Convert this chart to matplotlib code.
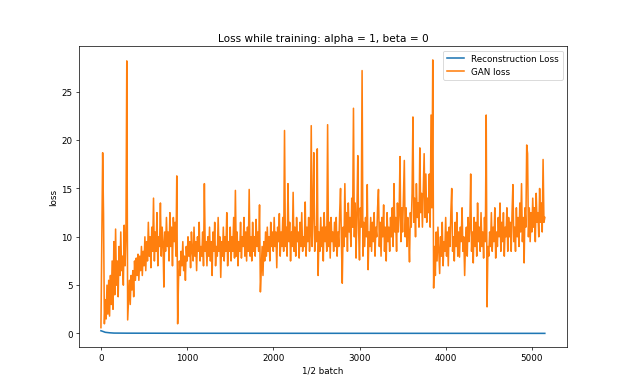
import matplotlib
matplotlib.use("Agg")
import matplotlib.pyplot as plt
import numpy as np

# GAN loss, one value every 10 half-batches
step = 10
gan_loss = [
    # 0 - 240
    0.6, 9.3, 18.7, 12.4, 1.0, 3.5, 1.5, 5.0, 2.0, 5.5, 1.8, 6.0, 3.0,
    7.5, 2.5, 9.5, 4.0, 10.8, 5.0, 7.5, 3.8, 9.0, 6.0, 10.5, 6.5,
    # 250 - 490
    8.0, 5.0, 11.2, 7.0, 10.0, 28.2, 1.4, 3.5, 5.5, 3.0, 6.0, 4.5, 6.5,
    3.8, 7.5, 5.5, 7.8, 6.0, 8.2, 5.5, 8.0, 6.5, 9.0, 6.0, 8.5,
    # 500 - 740
    7.0, 10.0, 6.5, 9.5, 7.5, 11.5, 8.0, 10.0, 6.8, 11.0, 8.5, 14.0, 7.5,
    10.5, 8.5, 12.5, 7.0, 10.0, 9.0, 13.5, 8.0, 11.0, 9.5, 4.8, 10.5,
    # 750 - 990
    8.5, 12.0, 9.0, 10.5, 7.5, 12.5, 9.0, 11.0, 7.0, 12.0, 9.5, 11.5, 8.0,
    16.3, 1.0, 5.5, 7.5, 6.0, 8.5, 7.0, 9.5, 6.5, 8.0, 5.5, 9.0,
    # 1000 - 1240
    7.5, 10.0, 8.0, 9.5, 6.8, 10.5, 8.5, 7.5, 11.0, 8.0, 9.5, 6.5, 10.0,
    8.5, 11.5, 7.5, 9.0, 8.0, 10.5, 7.0, 15.5, 8.5, 9.5, 7.0, 10.0,
    # 1250 - 1490
    8.0, 11.0, 7.5, 9.5, 6.0, 10.5, 8.5, 11.5, 7.0, 9.0, 8.0, 12.0, 8.5,
    10.0, 5.8, 9.5, 8.0, 11.0, 7.5, 10.0, 8.5, 12.5, 7.0, 9.5, 8.5,
    # 1500 - 1740
    11.0, 7.5, 10.0, 8.5, 12.0, 7.8, 14.8, 8.0, 10.5, 7.0, 9.5, 8.5, 11.5,
    7.8, 10.0, 9.0, 12.0, 8.0, 10.5, 7.5, 11.0, 8.5, 14.9, 8.0, 10.0,
    # 1750 - 1990
    7.5, 11.5, 8.5, 10.0, 8.0, 11.8, 9.0, 10.5, 8.5, 13.3, 4.3, 6.5, 9.0,
    6.0, 9.5, 7.5, 10.5, 8.0, 11.0, 8.5, 10.0, 7.5, 11.5, 9.0, 10.5,
    # 2000 - 2240
    8.5, 12.0, 9.0, 10.5, 6.8, 11.0, 9.5, 12.4, 8.0, 10.5, 9.0, 12.0, 8.5,
    21.0, 9.0, 11.0, 8.0, 15.5, 9.5, 11.5, 7.5, 10.5, 9.0, 14.6, 8.5,
    # 2250 - 2490
    11.0, 8.0, 12.0, 9.5, 10.5, 7.8, 11.5, 9.0, 12.5, 8.5, 10.0, 9.0, 13.6,
    8.0, 11.0, 9.5, 12.0, 8.5, 10.5, 21.5, 9.0, 12.5, 18.7, 8.5, 11.0,
    # 2500 - 2740
    9.5, 19.1, 6.0, 10.5, 8.5, 12.0, 9.0, 11.0, 7.5, 12.5, 9.5, 11.0, 8.5,
    21.6, 9.0, 11.5, 7.8, 12.0, 9.5, 10.5, 8.5, 11.5, 9.0, 12.0, 8.0,
    # 2750 - 2990
    10.5, 9.0, 12.5, 15.0, 9.5, 5.2, 11.0, 9.0, 15.5, 10.0, 12.5, 8.5, 13.5,
    10.5, 12.0, 9.0, 14.0, 11.0, 23.3, 10.0, 13.5, 7.8, 12.5, 18.4, 10.5,
    # 3000 - 3240
    7.6, 13.0, 11.0, 27.2, 8.0, 11.5, 9.0, 12.0, 10.0, 15.4, 6.6, 10.5, 9.0,
    12.0, 8.5, 11.5, 9.5, 12.5, 8.0, 11.0, 10.0, 13.0, 14.9, 9.0, 11.5,
    # 3250 - 3490
    8.0, 12.0, 10.0, 13.3, 8.5, 11.0, 7.5, 12.5, 9.5, 11.0, 8.5, 12.0, 10.0,
    13.0, 9.0, 15.5, 10.5, 12.0, 8.5, 13.5, 10.5, 12.5, 18.3, 9.5, 13.0,
    # 3500 - 3740
    10.5, 14.0, 17.9, 10.0, 13.0, 9.0, 12.0, 10.5, 7.4, 12.5, 11.0, 14.5, 22.4,
    11.5, 14.0, 10.0, 15.5, 12.0, 13.5, 11.0, 19.2, 12.5, 14.5, 11.0, 15.0,
    # 3750 - 3990
    18.6, 12.0, 16.5, 11.5, 14.0, 12.5, 16.5, 11.0, 22.6, 13.0, 28.3, 4.7, 9.0,
    6.0, 10.5, 7.5, 11.0, 8.5, 6.2, 10.0, 8.0, 11.5, 7.0, 9.5, 8.5,
    # 4000 - 4240
    12.0, 8.0, 10.5, 7.0, 11.0, 9.0, 12.5, 15.0, 8.5, 10.0, 7.5, 11.5, 9.0,
    12.5, 8.0, 10.5, 7.9, 11.0, 9.5, 13.0, 8.5, 10.0, 6.0, 9.5, 11.0,
    # 4250 - 4490
    8.0, 12.0, 9.5, 11.0, 16.5, 8.5, 10.5, 7.3, 12.0, 9.0, 11.5, 8.0, 13.5,
    9.5, 11.0, 8.5, 12.5, 9.0, 10.5, 7.8, 12.0, 9.5, 22.6, 2.75, 9.0,
    # 4500 - 4740
    8.0, 10.5, 9.0, 12.5, 8.5, 11.0, 9.5, 13.0, 7.8, 10.5, 9.0, 12.0, 10.0,
    13.5, 8.5, 11.5, 9.5, 12.5, 8.0, 11.0, 10.0, 13.0, 8.5, 12.0, 10.0,
    # 4750 - 4990
    11.5, 8.5, 12.5, 15.4, 9.5, 11.0, 8.5, 13.0, 10.0, 12.0, 9.0, 13.5, 10.5,
    15.5, 9.5, 12.0, 7.3, 13.0, 11.0, 19.5, 18.6, 10.0, 13.0, 9.5, 12.5,
    # 5000 - 5150
    10.5, 14.0, 11.0, 13.0, 9.5, 14.5, 11.5, 12.5, 10.0, 15.0, 11.5, 13.5,
    10.5, 18.0, 11.5, 12.0,
]
gan_x = np.arange(len(gan_loss)) * step

# reconstruction loss: drops fast then stays near zero
recon_x = [0, 20, 50, 100, 150, 300, 1000, 3000, 5150]
recon_loss = [0.28, 0.22, 0.12, 0.07, 0.04, 0.03, 0.02, 0.015, 0.01]

fig, ax = plt.subplots(figsize=(10, 6.2), dpi=63)
ax.plot(recon_x, recon_loss, lw=1.8, label="Reconstruction Loss")
ax.plot(gan_x, gan_loss, lw=1.8, label="GAN loss")
ax.set_title("Loss while training: alpha = 1, beta = 0")
ax.set_xlabel("1/2 batch")
ax.set_ylabel("loss")
ax.legend(loc="upper right")

fig.savefig("out.png", dpi=63)
